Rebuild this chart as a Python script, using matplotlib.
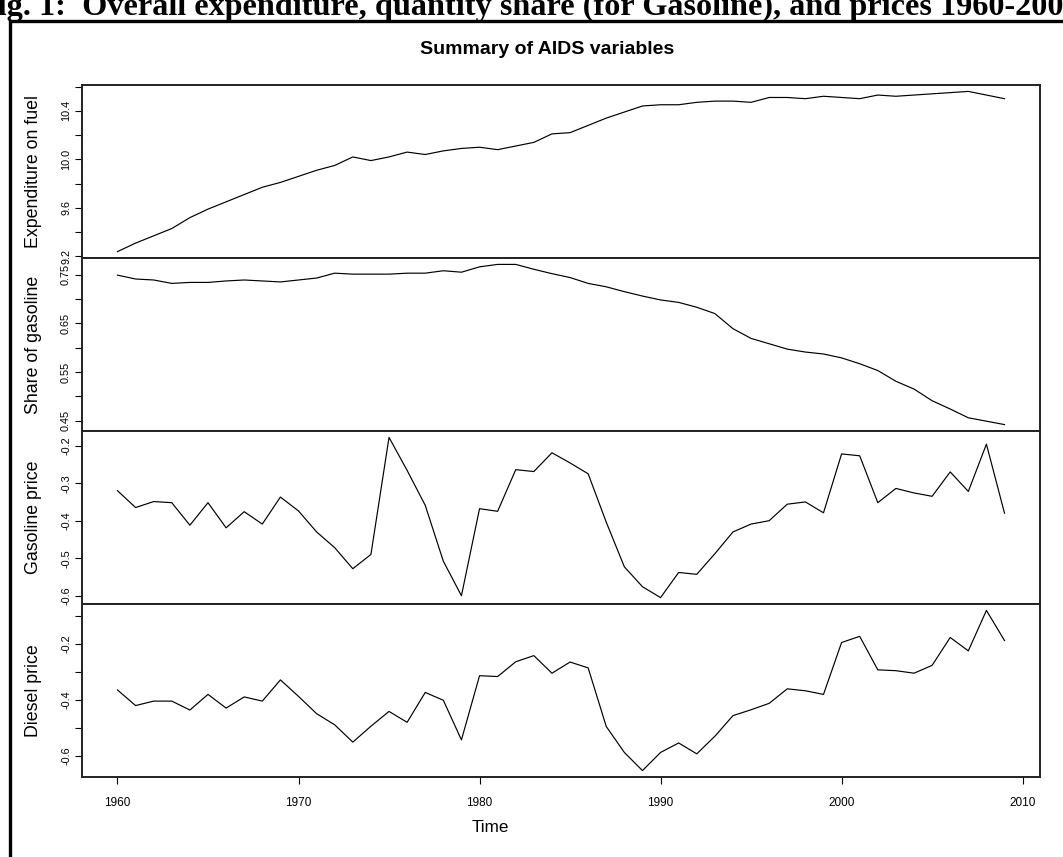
import numpy as np
import matplotlib
matplotlib.use('Agg')
import matplotlib.pyplot as plt
from matplotlib.ticker import FixedLocator, FixedFormatter
from matplotlib.patches import Rectangle

years = np.arange(1960, 2010)

expenditure = [9.24, 9.31, 9.37, 9.43, 9.52, 9.59, 9.65, 9.71, 9.77, 9.81,
               9.86, 9.91, 9.95, 10.02, 9.99, 10.02, 10.06, 10.04, 10.07, 10.09,
               10.10, 10.08, 10.11, 10.14, 10.21, 10.22, 10.28, 10.34, 10.39, 10.44,
               10.45, 10.45, 10.47, 10.48, 10.48, 10.47, 10.51, 10.51, 10.50, 10.52,
               10.51, 10.50, 10.53, 10.52, 10.53, 10.54, 10.55, 10.56, 10.53, 10.50]
share_gasoline = [0.749, 0.741, 0.739, 0.732, 0.734, 0.734, 0.737, 0.739, 0.737, 0.735,
                  0.739, 0.743, 0.753, 0.751, 0.751, 0.751, 0.753, 0.753, 0.758, 0.755,
                  0.766, 0.771, 0.771, 0.761, 0.752, 0.744, 0.732, 0.725, 0.715, 0.706,
                  0.698, 0.693, 0.683, 0.670, 0.639, 0.619, 0.608, 0.597, 0.591, 0.587,
                  0.579, 0.567, 0.553, 0.531, 0.515, 0.491, 0.474, 0.456, 0.449, 0.442]
gasoline_price = [-0.320, -0.365, -0.349, -0.352, -0.412, -0.352, -0.419, -0.376, -0.409, -0.337,
                  -0.374, -0.430, -0.472, -0.528, -0.490, -0.178, -0.266, -0.359, -0.508, -0.600,
                  -0.368, -0.375, -0.264, -0.269, -0.219, -0.246, -0.275, -0.404, -0.523, -0.576,
                  -0.605, -0.538, -0.543, -0.488, -0.430, -0.409, -0.400, -0.356, -0.350, -0.379,
                  -0.222, -0.227, -0.352, -0.314, -0.326, -0.335, -0.270, -0.322, -0.196, -0.380]
diesel_price = [-0.365, -0.421, -0.405, -0.405, -0.437, -0.381, -0.430, -0.390, -0.405, -0.329,
                -0.388, -0.450, -0.490, -0.552, -0.495, -0.442, -0.481, -0.374, -0.402, -0.544,
                -0.314, -0.317, -0.264, -0.242, -0.305, -0.265, -0.286, -0.496, -0.589, -0.654,
                -0.589, -0.555, -0.594, -0.531, -0.457, -0.436, -0.413, -0.361, -0.368, -0.381,
                -0.195, -0.173, -0.293, -0.296, -0.305, -0.277, -0.177, -0.225, -0.080, -0.188]

series_names = ["Expenditure on fuel", "Share of gasoline", "Gasoline price", "Diesel price"]

exp_ticks = [9.2, 9.4, 9.6, 9.8, 10.0, 10.2, 10.4, 10.6]
exp_labels = ['9.2', '', '9.6', '', '10.0', '', '10.4', '']
share_ticks = [0.45, 0.50, 0.55, 0.60, 0.65, 0.70, 0.75]
share_labels = ['0.45', '', '0.55', '', '0.65', '', '0.75']
gas_ticks = [-0.6, -0.5, -0.4, -0.3, -0.2]
gas_labels = ['-0.6', '-0.5', '-0.4', '-0.3', '-0.2']
diesel_ticks = [-0.6, -0.5, -0.4, -0.3, -0.2, -0.1]
diesel_labels = ['-0.6', '', '-0.4', '', '-0.2', '']
x_ticks = [1960, 1970, 1980, 1990, 2000, 2010]
x_labels = ['1960', '1970', '1980', '1990', '2000', '2010']

title = "Summary of AIDS variables"
caption = "Fig. 1:  Overall expenditure, quantity share (for Gasoline), and prices 1960-2009"

plt.rcParams['font.family'] = ['Liberation Sans', 'DejaVu Sans']

W, H = 1063, 857
fig = plt.figure(figsize=(W / 100, H / 100), dpi=100)
fig.patch.set_facecolor('white')

left_px, right_px = 82, 1040
top_px, panel_h = 85, 173

panels = [
    (expenditure, series_names[0], exp_ticks, exp_labels),
    (share_gasoline, series_names[1], share_ticks, share_labels),
    (gasoline_price, series_names[2], gas_ticks, gas_labels),
    (diesel_price, series_names[3], diesel_ticks, diesel_labels),
]

axes = []
for i, (vals, ylab, ticks, labels) in enumerate(panels):
    y_bottom = top_px + panel_h * (i + 1)
    ax = fig.add_axes([left_px / W, 1 - y_bottom / H,
                       (right_px - left_px) / W, panel_h / H])
    ax.plot(years, vals, color='black', lw=0.85)
    ax.margins(x=0.04, y=0.04)
    ax.yaxis.set_major_locator(FixedLocator(ticks))
    ax.yaxis.set_major_formatter(FixedFormatter(labels))
    ax.tick_params(axis='y', direction='out', length=5, width=0.8,
                   labelsize=7.8, pad=2.9, labelrotation=90, colors='black')
    for lbl in ax.get_yticklabels():
        lbl.set_va('center')
    for sp in ax.spines.values():
        sp.set_linewidth(1.4)
        sp.set_color('#222222')
    ax.set_ylabel(ylab, fontsize=12.8)
    ax.yaxis.label.set_va('center')
    ax.yaxis.set_label_coords((34 - left_px) / (right_px - left_px), 0.5)
    if i < 3:
        ax.tick_params(axis='x', bottom=False, labelbottom=False)
    else:
        ax.xaxis.set_major_locator(FixedLocator(x_ticks))
        ax.xaxis.set_major_formatter(FixedFormatter(x_labels))
        ax.tick_params(axis='x', direction='out', length=5, width=0.8,
                       labelsize=8.5, pad=9.3)
        ax.set_xlabel('Time', fontsize=12.3)
        ax.xaxis.label.set_va('center')
        ax.xaxis.set_label_coords((490 - left_px) / (right_px - left_px),
                                  -(827 - 777) / panel_h)
    axes.append(ax)

fig.text(547 / W, 1 - 49 / H, title, fontsize=14, fontweight='bold',
         ha='center', va='center')

# outer frame
frame = Rectangle((10 / W, -0.1), 1.5, (1 - 21 / H) + 0.1, transform=fig.transFigure,
                  fill=False, edgecolor='black', lw=2.4, clip_on=False)
fig.add_artist(frame)

cap = fig.text(-22 / W, 1 - 15 / H, caption, family=['Liberation Serif', 'DejaVu Serif'],
               fontweight='bold', fontsize=15, ha='left', va='baseline')
fig.canvas.draw()
w = cap.get_window_extent().width
cap.set_fontsize(15 * 1104 / w)

fig.savefig('out.png', dpi=100)
